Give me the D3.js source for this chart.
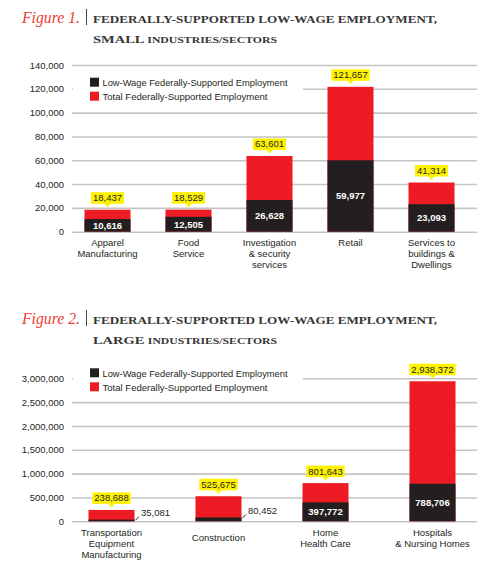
<!DOCTYPE html>
<html>
<head>
<meta charset="utf-8">
<script src="https://cdn.jsdelivr.net/npm/d3@7"></script>
<style>
  html, body { margin: 0; padding: 0; background: #fff; }
  svg { display: block; }
</style>
</head>
<body>
<svg id="chart" width="498" height="588"></svg>
<script>
// ---------- DATA ----------
const legendLabels = ["Low-Wage Federally-Supported Employment", "Total Federally-Supported Employment"];

const fig1Number = "Figure 1.";
const fig1TitleLines = ["FEDERALLY-SUPPORTED LOW-WAGE EMPLOYMENT,", "SMALL industries/sectors"];
const smallCategories = [["Apparel", "Manufacturing"], ["Food", "Service"], ["Investigation", "& security", "services"], ["Retail"], ["Services to", "buildings &", "Dwellings"]];
const smallTotal = [18437, 18529, 63601, 121657, 41314];
const smallLowWage = [10616, 12505, 26628, 59977, 23093];
const smallTicks = [0, 20000, 40000, 60000, 80000, 100000, 120000, 140000];

const fig2Number = "Figure 2.";
const fig2TitleLines = ["FEDERALLY-SUPPORTED LOW-WAGE EMPLOYMENT,", "LARGE industries/sectors"];
const largeCategories = [["Transportation", "Equipment", "Manufacturing"], ["Construction"], ["Home", "Health Care"], ["Hospitals", "& Nursing Homes"]];
const largeTotal = [238688, 525675, 801643, 2938372];
const largeLowWage = [35081, 80452, 397772, 788706];
const largeTicks = [0, 500000, 1000000, 1500000, 2000000, 2500000, 3000000];

// ---------- STYLE ----------
const RED = "#ed1c24", BLACK = "#231f20", YELLOW = "#fff200", GRID = "#c4c4c4";
const SANS = "'Liberation Sans', Arial, Helvetica, sans-serif";
const SERIF = "'Liberation Serif', 'Times New Roman', serif";
const fmt = d3.format(",");
const FS = 9.5;

const svg = d3.select("#chart");

function drawTitle(g, number, lines, top) {
  g.append("text").attr("x", 22).attr("y", top + 23)
    .attr("font-family", SERIF).attr("font-style", "italic").attr("font-size", 16.5)
    .attr("fill", "#ec3d35").attr("textLength", 58).attr("lengthAdjust", "spacingAndGlyphs")
    .text(number);
  g.append("line").attr("x1", 86.5).attr("x2", 86.5).attr("y1", top + 9).attr("y2", top + 25)
    .attr("stroke", "#444").attr("stroke-width", 1);
  const widths = [344, 184];
  lines.forEach((t, i) => {
    const el = g.append("text").attr("x", 93).attr("y", top + 23.3 + i * 20)
      .attr("font-family", SERIF).attr("font-weight", "bold")
      .attr("fill", "#363636")
      .attr("textLength", widths[i]).attr("lengthAdjust", "spacingAndGlyphs");
    // manual small caps: uppercase runs full size, lowercase runs as smaller capitals
    const runs = t.match(/[a-z\/]+|[^a-z\/]+/g);
    runs.forEach(r => {
      const small = /[a-z]/.test(r);
      el.append("tspan").attr("font-size", small ? 8.6 : 10.6).text(r.toUpperCase());
    });
  });
}

function drawChart(opts) {
  const { categories, total, low, ticks, yRange, xRange, padIn, padOut, legendTop, legendRect, shiftSingle } = opts;
  const g = svg.append("g");
  const idx = d3.range(categories.length);
  const x = d3.scaleBand().domain(idx).range(xRange).paddingInner(padIn).paddingOuter(padOut);
  const y = d3.scaleLinear().domain([0, ticks[ticks.length - 1]]).range(yRange);

  // gridlines + tick labels
  const axis = d3.axisLeft(y).tickValues(ticks).tickFormat(fmt).tickSize(-(477 - 72)).tickPadding(8);
  const ag = g.append("g").attr("transform", "translate(72,0)").call(axis);
  ag.select(".domain").remove();
  ag.selectAll(".tick line").attr("stroke", GRID).attr("stroke-width", 1.6);
  ag.selectAll(".tick text").attr("font-family", SANS).attr("font-size", FS).attr("fill", BLACK);

  // legend
  g.append("rect").attr("x", legendRect[0]).attr("y", legendRect[1]).attr("width", legendRect[2]).attr("height", legendRect[3]).attr("fill", "#fff");
  [BLACK, RED].forEach((c, i) => {
    g.append("rect").attr("x", 90).attr("y", legendTop + i * 14).attr("width", 9).attr("height", 9).attr("fill", c);
    g.append("text").attr("x", 102.5).attr("y", legendTop + i * 14 + 8.2)
      .attr("font-family", SANS).attr("font-size", FS).attr("fill", BLACK)
      .attr("textLength", i === 0 ? 185 : 165).attr("lengthAdjust", "spacingAndGlyphs")
      .text(legendLabels[i]);
  });

  const bw = x.bandwidth();
  // total bars (red)
  g.selectAll(".tot").data(idx).enter().append("rect")
    .attr("x", i => x(i)).attr("width", bw)
    .attr("y", i => y(total[i])).attr("height", i => y(0) - y(total[i]))
    .attr("fill", RED);
  // low-wage bars (black)
  g.selectAll(".low").data(idx).enter().append("rect")
    .attr("x", i => x(i)).attr("width", bw)
    .attr("y", i => y(low[i])).attr("height", i => y(0) - y(low[i]))
    .attr("fill", BLACK);

  // yellow callouts for totals
  idx.forEach(i => {
    const cx = x(i) + bw / 2;
    const top = y(total[i]);
    const cg = g.append("g");
    const t = cg.append("text").attr("x", cx).attr("y", top - 8.5).attr("text-anchor", "middle")
      .attr("font-family", SANS).attr("font-size", FS).attr("fill", BLACK).text(fmt(total[i]));
    const w = t.node().getComputedTextLength() + 4;
    cg.insert("rect", "text").attr("x", cx - w / 2).attr("y", top - 17.5).attr("width", w).attr("height", 11.5).attr("fill", YELLOW);
    cg.insert("path", "text").attr("d", `M${cx - 3.5},${top - 6.5}L${cx + 3.5},${top - 6.5}L${cx},${top - 2.5}Z`).attr("fill", YELLOW);
  });

  // low-wage labels
  idx.forEach(i => {
    const h = y(0) - y(low[i]);
    if (h >= 12) {
      g.append("text").attr("x", x(i) + bw / 2).attr("y", (y(0) + y(low[i])) / 2 + 3.5)
        .attr("text-anchor", "middle").attr("font-family", SANS).attr("font-weight", "bold")
        .attr("font-size", FS).attr("fill", "#fff").text(fmt(low[i]));
    } else {
      const xr = x(i) + bw;
      const yl = y(low[i]);
      g.append("line").attr("x1", xr + 1).attr("y1", yl + 0.5).attr("x2", xr + 4.5).attr("y2", yl - 3)
        .attr("stroke", BLACK).attr("stroke-width", 1);
      g.append("text").attr("x", xr + 6.5).attr("y", yl - 3.2)
        .attr("font-family", SANS).attr("font-size", FS).attr("fill", BLACK).text(fmt(low[i]));
    }
  });

  // category labels
  idx.forEach(i => {
    const lines = categories[i];
    const off = (shiftSingle && lines.length === 1) ? 5.5 : 0;
    const t = g.append("text").attr("text-anchor", "middle")
      .attr("font-family", SANS).attr("font-size", FS).attr("fill", BLACK);
    lines.forEach((s, k) => {
      t.append("tspan").attr("x", x(i) + bw / 2).attr("y", y(0) + 14.5 + off + k * 11).text(s);
    });
  });
}

drawTitle(svg.append("g"), fig1Number, fig1TitleLines, 0);
drawChart({
  categories: smallCategories, total: smallTotal, low: smallLowWage, ticks: smallTicks,
  yRange: [231.7, 65], xRange: [67, 472], padIn: 0.432, padOut: 0.216,
  legendTop: 77.7, legendRect: [73, 74, 230, 30], shiftSingle: false
});

drawTitle(svg.append("g"), fig2Number, fig2TitleLines, 301);
drawChart({
  categories: largeCategories, total: largeTotal, low: largeLowWage, ticks: largeTicks,
  yRange: [521.3, 378.3], xRange: [58, 486], padIn: 0.57, padOut: 0.285,
  legendTop: 368.3, legendRect: [73, 364, 230, 30], shiftSingle: true
});
</script>
</body>
</html>
